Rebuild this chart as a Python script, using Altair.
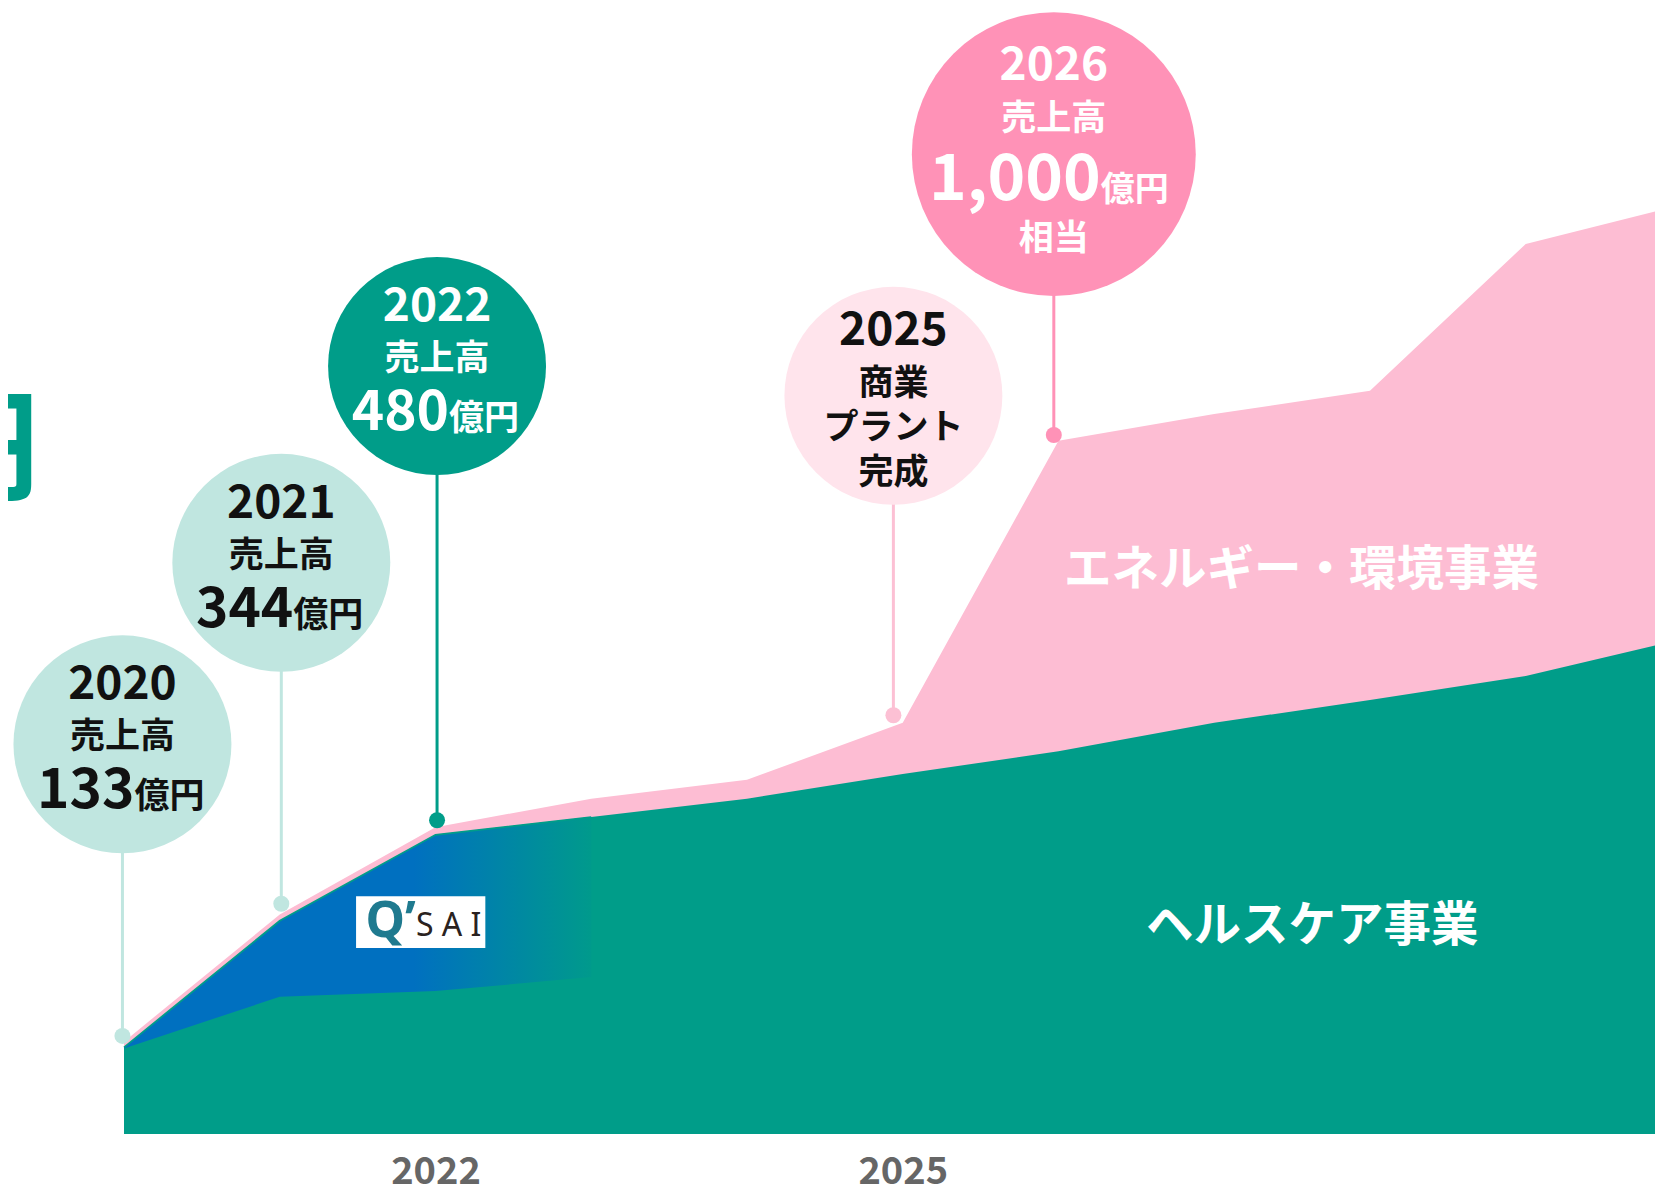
import altair as alt
import pandas as pd

FONT = "Noto Sans CJK JP"

# ---------------- series (values in 億円) ----------------
years = [2020, 2021, 2022, 2023, 2024, 2025, 2026, 2027, 2028, 2029, 2030]
total_sales = [146, 347, 485, 530, 560, 650, 1096, 1138, 1175, 1407, 1469]
healthcare = [137, 337, 473, 501, 530, 569, 605, 650, 686, 724, 782]

qsai_years = [2020, 2021, 2022, 2023]
qsai_base = [135, 217, 226, 248]
qsai_top = [137, 337, 473, 501]

axis_years = [2022, 2025]

# ---------------- annotations (bubbles) ----------------
ann_year = [2020, 2021, 2022, 2025, 2026]
ann_x = [2019.99, 2021.01, 2022.01, 2024.94, 2025.97]
ann_bubble_level = [616, 903, 1214, 1167, 1549]
ann_dot_level = [155, 364, 496, 662, 1105]

sales_year_text = ["2020", "2021", "2022"]
sales_amount_text = ["133", "344", "480"]
big_year_text = "2026"
big_amount_text = "1,000"
plant_year_text = "2025"
plant_lines = ["商業", "プラント", "完成"]

segment_labels = ["エネルギー・環境事業", "ヘルスケア事業"]
segment_x = [2027.56, 2027.63]
segment_level = [890, 327]

logo_x = [2021.49, 2022.32]
logo_level = [376, 294]

# ---------------- styles ----------------
PINK = "#FDBDD3"
GREEN = "#009D89"
BLUE = "#0070C0"
bubble_fill = ["#C0E6E0", "#C0E6E0", GREEN, "#FFE4EC", "#FF92B7"]
stem_color = ["#C0E6E0", "#C0E6E0", GREEN, "#FCC0D4", "#FF92B7"]
bubble_size = [47500, 47500, 47500, 47500, 80600]   # symbol size = diameter^2
text_color = ["#111111", "#111111", "#FFFFFF"]

x_scale = alt.Scale(domain=[2020, 2029.83], nice=False, zero=False)
y_scale = alt.Scale(domain=[0, 1780], nice=False, zero=False)
x_axis = alt.Axis(values=axis_years, format="d", labelFontSize=38, labelColor="#666666",
                  labelFont=FONT, labelFontWeight="bold", ticks=False, tickSize=0,
                  domain=False, grid=False, labelPadding=19, labelFlush=False)


def X(f):
    return alt.X(f"{f}:Q", scale=x_scale, axis=x_axis, title=None)


def Y(f):
    return alt.Y(f"{f}:Q", scale=y_scale, axis=None, title=None)


main = pd.DataFrame({"year": years, "total": total_sales, "healthcare": healthcare})
qsai = pd.DataFrame({"year": qsai_years, "base": qsai_base, "top": qsai_top})
ann = pd.DataFrame({"x": ann_x, "bubble": ann_bubble_level, "dot": ann_dot_level,
                    "fill": bubble_fill, "stem": stem_color, "size": bubble_size})

pink_area = alt.Chart(main).mark_area(color=PINK, clip=True).encode(x=X("year"), y=Y("total"))
green_area = alt.Chart(main).mark_area(color=GREEN, clip=True).encode(x=X("year"), y=Y("healthcare"))
blue_area = alt.Chart(qsai).mark_area(
    clip=True,
    color=alt.Gradient(gradient="linear",
                       stops=[alt.GradientStop(color=BLUE, offset=0),
                              alt.GradientStop(color=BLUE, offset=0.62),
                              alt.GradientStop(color="#009A8C", offset=1)],
                       x1=0, x2=1, y1=0, y2=0)
).encode(x=X("year"), y=Y("top"), y2=alt.Y2("base:Q"))
green_edge = alt.Chart(qsai).mark_line(color=GREEN, strokeWidth=1.8).encode(x=X("year"), y=Y("top"))

stems = alt.Chart(ann).mark_rule(strokeWidth=3).encode(
    x=X("x"), y=Y("bubble"), y2=alt.Y2("dot:Q"), color=alt.Color("stem:N", scale=None))
dots = alt.Chart(ann).mark_circle(size=256, opacity=1).encode(
    x=X("x"), y=Y("dot"), color=alt.Color("stem:N", scale=None))
bubbles = alt.Chart(ann).mark_circle(opacity=1).encode(
    x=X("x"), y=Y("bubble"), color=alt.Color("fill:N", scale=None),
    size=alt.Size("size:Q", scale=None))

sales = pd.DataFrame({"x": ann_x[:3], "level": ann_bubble_level[:3],
                      "year": sales_year_text, "amount": sales_amount_text,
                      "label": ["売上高"] * 3, "unit": ["億円"] * 3, "tc": text_color})


def txt(df, field, size, dy=0, dx=0, align="center", baseline="middle", color=None,
        font=FONT, weight="bold"):
    enc = dict(x=X("x"), y=Y("level"), text=alt.Text(f"{field}:N"))
    mk = dict(font=font, fontSize=size, fontWeight=weight, dy=dy, dx=dx, align=align, baseline=baseline)
    if color is None:
        enc["color"] = alt.Color("tc:N", scale=None)
    else:
        mk["color"] = color
    return alt.Chart(df).mark_text(**mk).encode(**enc)


sales_layers = [
    txt(sales, "year", 46, dy=-59),
    txt(sales, "label", 35, dy=-7),
    txt(sales, "amount", 55, dy=64, dx=12, align="right", baseline="alphabetic"),
    txt(sales, "unit", 35, dy=64, dx=12, align="left", baseline="alphabetic"),
]

big = pd.DataFrame({"x": [ann_x[4]], "level": [ann_bubble_level[4]], "year": [big_year_text],
                    "label": ["売上高"], "amount": [big_amount_text], "unit": ["億円"], "eq": ["相当"]})
big_layers = [
    txt(big, "year", 46, dy=-88, color="white"),
    txt(big, "label", 35, dy=-35, color="white"),
    txt(big, "amount", 64, dy=46, dx=47, align="right", baseline="alphabetic", color="white"),
    txt(big, "unit", 34, dy=47, dx=47, align="left", baseline="alphabetic", color="white"),
    txt(big, "eq", 35, dy=85, color="white"),
]

plant = pd.DataFrame({"x": [ann_x[3]], "level": [ann_bubble_level[3]], "year": [plant_year_text],
                      "l1": [plant_lines[0]], "l2": [plant_lines[1]], "l3": [plant_lines[2]]})
plant_layers = [
    txt(plant, "year", 46, dy=-65, color="#111111"),
    txt(plant, "l1", 35, dy=-12, color="#111111"),
    txt(plant, "l2", 35, dy=32, color="#111111"),
    txt(plant, "l3", 35, dy=77, color="#111111"),
]

seg = pd.DataFrame({"x": segment_x, "level": segment_level, "t": segment_labels})
seg_layer = txt(seg, "t", 47.5, color="white")

logo = pd.DataFrame({"x": [logo_x[0]], "x2": [logo_x[1]], "level": [logo_level[0]], "level2": [logo_level[1]]})
logo_rect = alt.Chart(logo).mark_rect(color="white").encode(
    x=X("x"), x2=alt.X2("x2:Q"), y=Y("level"), y2=alt.Y2("level2:Q"))
logo_txt = pd.DataFrame({"x": [(logo_x[0] + logo_x[1]) / 2], "level": [(logo_level[0] + logo_level[1]) / 2],
                         "q": ["Q’"], "s": ["S A I"]})
logo_q = txt(logo_txt, "q", 50, dx=-30, color="#1F7A8F", font="Noto Sans", weight="bold")
logo_s = txt(logo_txt, "s", 32, dx=28, dy=4, color="#2A2220", font="Noto Sans", weight="normal")

title_frag = alt.Chart(pd.DataFrame({"t": ["円"]})).mark_text(
    font=FONT, fontSize=122, fontWeight="bold", color=GREEN, align="right", baseline="alphabetic"
).encode(x=alt.value(-84), y=alt.value(482), text="t:N")

chart = alt.layer(
    pink_area, green_area, blue_area, green_edge,
    stems, dots, bubbles,
    *sales_layers, *big_layers, *plant_layers,
    seg_layer, logo_rect, logo_q, logo_s, title_frag,
).properties(
    width=1531, height=1126,
    padding={"left": 116, "top": 0, "right": 0, "bottom": 57},
    autosize=alt.AutoSizeParams(type="none"),
    background="white",
).configure_view(stroke=None)

chart.save("out.html", embed_options={"renderer": "svg", "actions": False})
